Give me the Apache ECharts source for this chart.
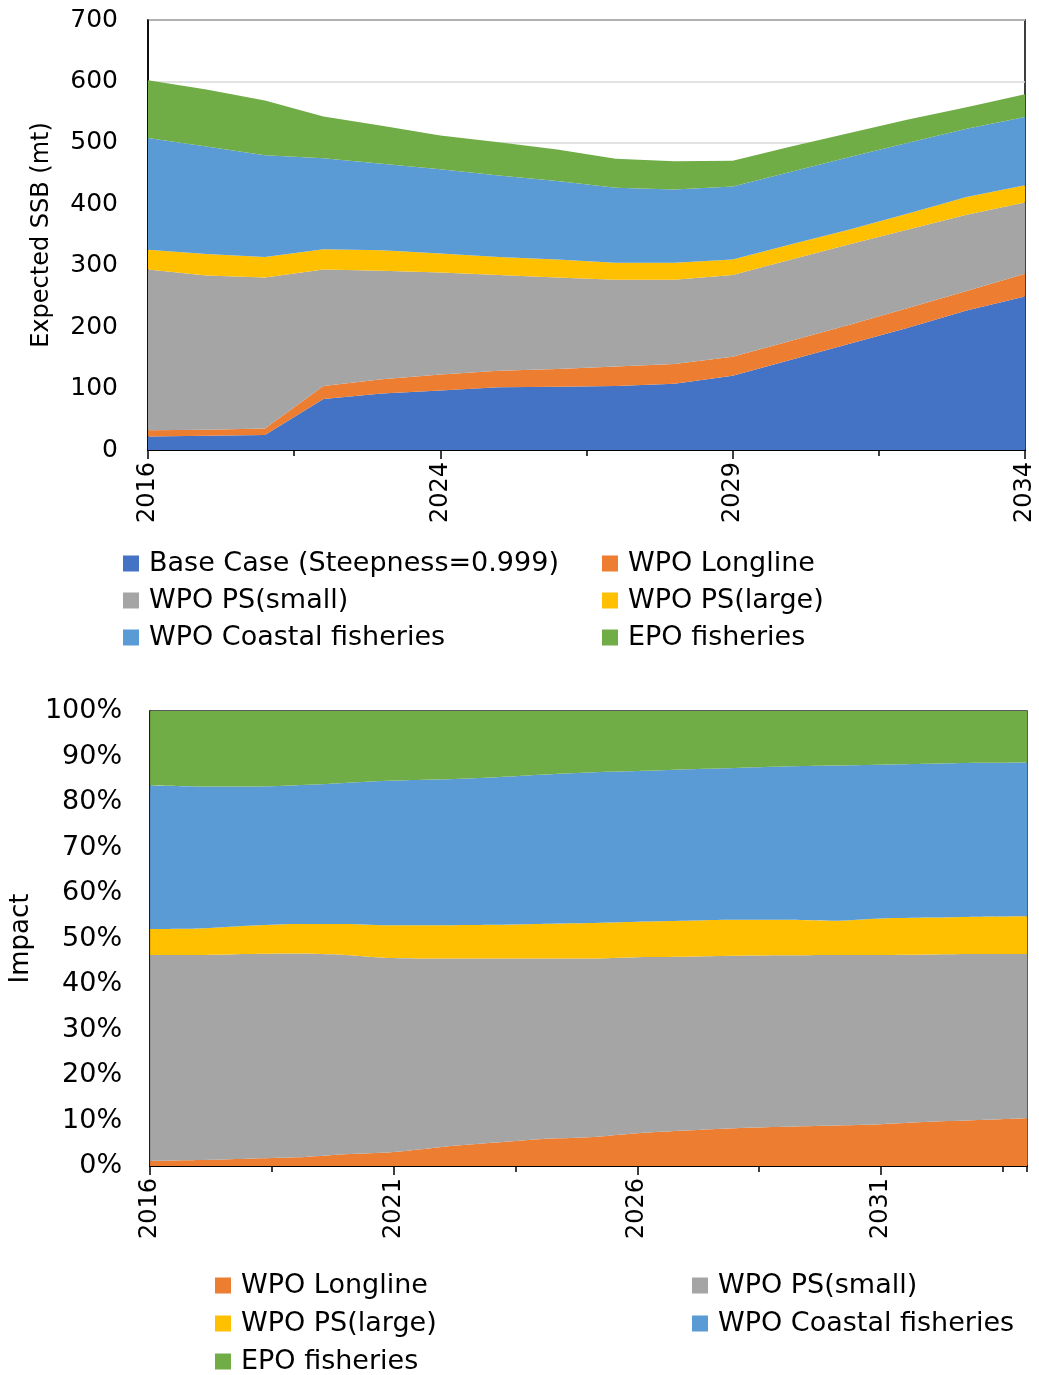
<!DOCTYPE html>
<html>
<head>
<meta charset="utf-8">
<title>Expected SSB and impact by fishery</title>
<script src="https://cdn.jsdelivr.net/npm/echarts@6/dist/echarts.min.js"></script>
<style>
  html, body { margin: 0; padding: 0; background: #fff; }
  #main { width: 1039px; height: 1375px; }
</style>
</head>
<body>
<div id="main"></div>
<script>
// top chart: expected SSB (mt), stacked by fishery
var ssbYears = ['2016', '2020', '2021', '2022', '2023', '2024', '2025', '2026',
  '2027', '2028', '2029', '2030', '2031', '2032', '2033', '2034'];
var ssbBase = [22, 23, 24.5, 83, 92, 97, 102, 103, 104, 108, 121, 147, 173, 199, 227, 250];
var ssbLongline = [10, 10, 10.5, 21, 23, 26, 27, 29, 32, 32, 31, 31, 31, 32, 32, 37];
var ssbPsSmall = [262, 251, 246, 190, 177, 166, 156, 149, 141, 137, 133, 132, 131, 128, 124, 116];
var ssbPsLarge = [32, 35, 33, 33, 33, 31, 29, 29, 28, 28, 25, 25, 24, 26, 29, 28];
var ssbCoastal = [182, 175, 166, 148, 141, 137, 133, 128, 122, 119, 119, 118, 118, 115, 111, 111];
var ssbEpo = [94, 93, 89, 68, 62, 55, 54, 51, 47, 46, 42, 41, 39, 38, 35, 37];
var ssbTicks = [0, 100, 200, 300, 400, 500, 600, 700];

// bottom chart: impact share (%)
var impactYears = ['2016', '2017', '2018', '2019', '2020', '2021', '2022', '2023', '2024', '2025',
  '2026', '2027', '2028', '2029', '2030', '2031', '2032', '2033', '2034'];
var impactLongline = [1.1, 1.3, 1.6, 1.9, 2.6, 3.1, 4.2, 5.1, 5.9, 6.3, 7.2, 7.8, 8.3, 8.6, 8.9, 9.2, 9.7, 10.1, 10.5];
var impactPsSmall = [45.3, 45.1, 45.0, 44.8, 43.8, 42.6, 41.4, 40.5, 39.7, 39.3, 38.7, 38.2, 37.9, 37.7, 37.5, 37.2, 36.8, 36.5, 36.1];
var impactPsLarge = [5.7, 5.8, 6.2, 6.5, 6.8, 7.2, 7.3, 7.4, 7.6, 7.8, 7.8, 7.9, 7.9, 7.8, 7.5, 8.0, 8.1, 8.2, 8.3];
var impactCoastal = [31.5, 31.2, 30.6, 30.5, 31.0, 31.8, 32.1, 32.4, 32.8, 33.1, 33.1, 33.3, 33.4, 33.7, 34.1, 33.8, 33.8, 33.8, 33.8];
var impactEpo = [16.4, 16.6, 16.6, 16.3, 15.8, 15.3, 15.0, 14.6, 14.0, 13.5, 13.2, 12.8, 12.5, 12.2, 12.0, 11.8, 11.6, 11.4, 11.3];

var NAME_BASE = 'Base Case (Steepness=0.999)';
var NAME_LL = 'WPO Longline';
var NAME_PSS = 'WPO PS(small)';
var NAME_PSL = 'WPO PS(large)';
var NAME_COAST = 'WPO Coastal fisheries';
var NAME_EPO = 'EPO fisheries';

var colors = {};
colors[NAME_BASE] = '#4472C4';
colors[NAME_LL] = '#ED7D31';
colors[NAME_PSS] = '#A5A5A5';
colors[NAME_PSL] = '#FFC000';
colors[NAME_COAST] = '#5B9BD5';
colors[NAME_EPO] = '#70AD47';

var FONT = 'DejaVu Sans';

function area(name, data, xIdx, yIdx, stack, smooth) {
  return {
    name: name,
    type: 'line',
    stack: stack,
    xAxisIndex: xIdx,
    yAxisIndex: yIdx,
    data: data,
    smooth: smooth,
    showSymbol: false,
    symbol: 'none',
    lineStyle: { width: 0 },
    areaStyle: { color: colors[name], opacity: 1 },
    itemStyle: { color: colors[name] },
    emphasis: { disabled: true },
    silent: true,
    animation: false
  };
}

// one column of the legend, 3 rows max
function legendCol(names, left, top, gap) {
  return {
    orient: 'vertical',
    left: left,
    top: top,
    height: 130,
    padding: 0,
    itemGap: gap,
    itemWidth: 16,
    itemHeight: 16,
    icon: 'rect',
    selectedMode: false,
    data: names,
    textStyle: { fontFamily: FONT, fontSize: 27, color: '#000', padding: [0, 0, 0, 5] }
  };
}

// ticks half way between labels (tick-only value axes)
function minorTickAxis(grid, max) {
  return {
    type: 'value',
    gridIndex: grid,
    position: 'bottom',
    min: 0,
    max: max,
    interval: 2.5,
    axisLine: { show: false },
    axisLabel: { show: false },
    splitLine: { show: false },
    axisTick: { show: true, length: 6, lineStyle: { color: '#000', width: 1.5 } }
  };
}

var chart = echarts.init(document.getElementById('main'), null, { renderer: 'canvas' });

var option = {
  backgroundColor: '#fff',
  animation: false,
  grid: [
    { left: 148, top: 20, width: 877, height: 430, show: true, borderColor: '#000', borderWidth: 1.5, backgroundColor: 'transparent' },
    { left: 150, top: 711, width: 877, height: 455, show: true, borderColor: '#262626', borderWidth: 1.5, backgroundColor: 'transparent' }
  ],
  legend: [
    legendCol([NAME_BASE, NAME_PSS, NAME_COAST], 123, 550, 10),
    legendCol([NAME_LL, NAME_PSL, NAME_EPO], 602, 550, 10),
    legendCol([NAME_LL, NAME_PSL, NAME_EPO], 215, 1272, 11),
    legendCol([NAME_PSS, NAME_COAST], 692, 1272, 11)
  ],
  xAxis: [
    {
      type: 'category',
      gridIndex: 0,
      data: ssbYears,
      boundaryGap: false,
      axisLine: { lineStyle: { color: '#000', width: 2 } },
      axisTick: { interval: 4, length: 9, lineStyle: { color: '#000', width: 1.5 } },
      axisLabel: { interval: 4, rotate: 90, margin: 12, fontFamily: FONT, fontSize: 24, color: '#000' },
      splitLine: { show: false }
    },
    {
      type: 'category',
      gridIndex: 1,
      data: impactYears,
      boundaryGap: false,
      axisLine: { lineStyle: { color: '#000', width: 2 } },
      axisTick: { interval: 4, length: 9, lineStyle: { color: '#000', width: 1.5 } },
      axisLabel: { interval: 4, rotate: 90, margin: 12, fontFamily: FONT, fontSize: 24, color: '#000' },
      splitLine: { show: false }
    },
    minorTickAxis(0, ssbYears.length - 1),
    minorTickAxis(1, impactYears.length - 1)
  ],
  yAxis: [
    {
      type: 'value',
      gridIndex: 0,
      min: ssbTicks[0],
      max: ssbTicks[ssbTicks.length - 1],
      interval: 100,
      name: 'Expected SSB (mt)',
      nameLocation: 'middle',
      nameGap: 94,
      nameTextStyle: { fontFamily: FONT, fontSize: 24, color: '#000' },
      axisLine: { show: true, lineStyle: { color: '#000', width: 1.5 } },
      axisTick: { show: false },
      axisLabel: { margin: 30, fontFamily: FONT, fontSize: 25, color: '#000' },
      splitLine: { show: true, lineStyle: { color: '#d9d9d9', width: 1.5 } }
    },
    {
      type: 'value',
      gridIndex: 1,
      min: 0,
      max: 100,
      interval: 10,
      name: 'Impact',
      nameLocation: 'middle',
      nameGap: 113,
      nameTextStyle: { fontFamily: FONT, fontSize: 26, color: '#000' },
      axisLine: { show: true, lineStyle: { color: '#000', width: 1.5 } },
      axisTick: { show: false },
      axisLabel: { margin: 28, formatter: '{value}%', fontFamily: FONT, fontSize: 27, color: '#000' },
      splitLine: { show: false }
    }
  ],
  series: [
    area(NAME_BASE, ssbBase, 0, 0, 'ssb', false),
    area(NAME_LL, ssbLongline, 0, 0, 'ssb', false),
    area(NAME_PSS, ssbPsSmall, 0, 0, 'ssb', false),
    area(NAME_PSL, ssbPsLarge, 0, 0, 'ssb', false),
    area(NAME_COAST, ssbCoastal, 0, 0, 'ssb', false),
    area(NAME_EPO, ssbEpo, 0, 0, 'ssb', false),

    area(NAME_LL, impactLongline, 1, 1, 'impact', 0.3),
    area(NAME_PSS, impactPsSmall, 1, 1, 'impact', 0.3),
    area(NAME_PSL, impactPsLarge, 1, 1, 'impact', 0.3),
    area(NAME_COAST, impactCoastal, 1, 1, 'impact', 0.3),
    area(NAME_EPO, impactEpo, 1, 1, 'impact', 0.3)
  ]
};

chart.setOption(option);
</script>
</body>
</html>
